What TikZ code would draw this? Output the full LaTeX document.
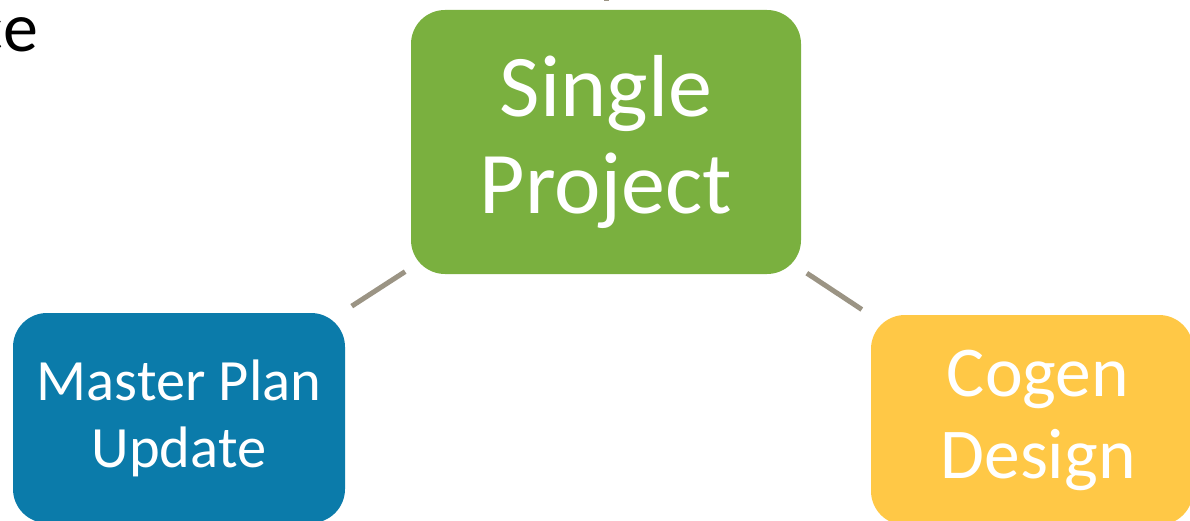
\documentclass[tikz,border=0pt]{standalone}
\usepackage{fontspec}
\setmainfont{Carlito}
\usetikzlibrary{arrows}

\definecolor{leafgreen}{HTML}{7AB03F}
\definecolor{seablue}{HTML}{0B7BAA}
\definecolor{sunyellow}{HTML}{FFC846}
\definecolor{linkgray}{HTML}{9B9484}

\begin{document}
\begin{tikzpicture}[x=1pt,y=-1pt,line width=5pt,
  main node/.style={rectangle,rounded corners=34pt,inner sep=0pt,align=center,text=white},
  link/.style={draw=linkgray,shorten >=8pt,shorten <=4pt}]

  \useasboundingbox (0,0) rectangle (1190,521);

  % cut-off text at top left
  \node[anchor=base east,font=\fontsize{70}{84}\selectfont] (ce) at (44,52) {ce};

  \node[main node,fill=leafgreen,minimum width=390pt,minimum height=264pt,
        font=\fontsize{88}{97}\selectfont] (1) at (606,142) {Single\\Project};
  \node[main node,fill=seablue,minimum width=332pt,minimum height=210pt,
        font=\fontsize{58.5}{67}\selectfont] (2) at (179,418) {Master Plan\\Update};
  \node[main node,fill=sunyellow,minimum width=322pt,minimum height=210pt,
        font=\fontsize{71.5}{82}\selectfont] (3) at (1032,420) {\hspace*{12pt}Cogen\\\hspace*{12pt}Design};

  \coordinate (0) at (606,-20);

  \path[link] (0) edge[shorten >=6pt,shorten <=0pt] (1)
   (1) edge (2)
   (1) edge (3);

\end{tikzpicture}
\end{document}
